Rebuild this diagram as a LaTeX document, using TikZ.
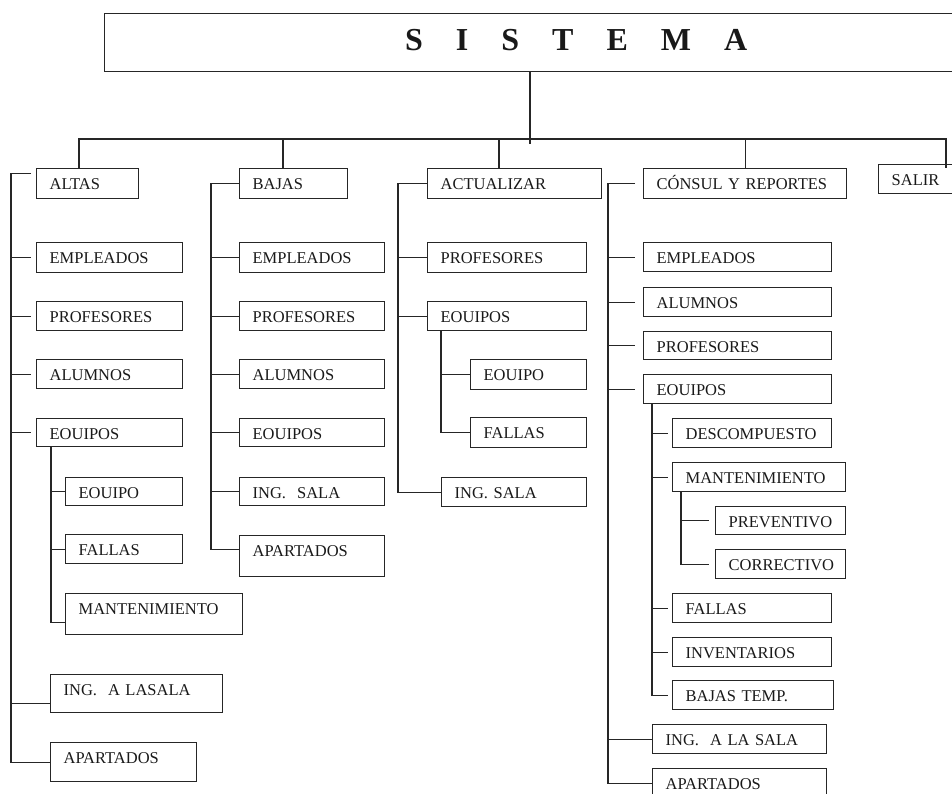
\documentclass[tikz,border=0pt]{standalone}
\usepackage{fontspec}
\setmainfont{Liberation Serif}
\newcommand\bx[6]{\pgfmathsetmacro\bxd{#5-21}\node[box,text width=#4pt,text depth=\bxd pt] (#1) at (#2,#3) {\hspace*{13pt}\mbox{#6}};}
\begin{document}
\begin{tikzpicture}[x=1pt,y=-1pt,
  ln/.style={line width=1.3pt,draw=black!85},
  box/.style={draw=black!85,line width=1.3pt,anchor=north west,inner xsep=0pt,inner ysep=0pt,
    align=left,font=\fontsize{16.5}{18}\selectfont,text=black!90,text height=21pt}]
\useasboundingbox (0,0) rectangle (952,793);
\clip (0,0) rectangle (952,793);
% top
\node[draw=black!85,line width=1.3pt,anchor=north west,minimum width=900pt,minimum height=58pt,inner sep=0pt] (sys) at (104,13) {};
\node[anchor=base west,inner sep=0pt,text=black!90,font=\fontsize{32}{36}\selectfont\bfseries] (systxt) at (405,50)
  {S\hspace{33pt}I\hspace{33pt}S\hspace{33pt}T\hspace{33pt}E\hspace{33pt}M\hspace{33pt}A};
% ALTAS
\bx{altas}{36}{168}{102}{30}{ALTAS}
\bx{aemp}{36}{242}{146}{30}{EMPLEADOS}
\bx{aprof}{36}{301}{146}{29}{PROFESORES}
\bx{aalum}{36}{359}{146}{29}{ALUMNOS}
\bx{aequ}{36}{418}{146}{28}{EOUIPOS}
\bx{aeqa}{65}{477}{117}{28}{EOUIPO}
\bx{afal}{65}{534}{117}{29}{FALLAS}
\bx{amant}{65}{593}{177}{41}{MANTENIMIENTO}
\bx{aing}{50}{674}{172}{38}{ING.\ \ A LASALA}
\bx{aapa}{50}{742}{146}{39}{APARTADOS}
% BAJAS
\bx{bajas}{239}{168}{108}{30}{BAJAS}
\bx{bemp}{239}{242}{145}{30}{EMPLEADOS}
\bx{bprof}{239}{301}{145}{29}{PROFESORES}
\bx{balum}{239}{359}{145}{29}{ALUMNOS}
\bx{bequ}{239}{418}{145}{28}{EOUIPOS}
\bx{bing}{239}{477}{145}{28}{ING.\ \ SALA}
\bx{bapa}{239}{535}{145}{41}{APARTADOS}
% ACTUALIZAR
\bx{act}{427}{168}{174}{30}{ACTUALIZAR}
\bx{cprof}{427}{242}{159}{30}{PROFESORES}
\bx{cequ}{427}{301}{159}{29}{EOUIPOS}
\bx{ceqa}{470}{359}{116}{30}{EOUIPO}
\bx{cfal}{470}{417}{116}{30}{FALLAS}
\bx{cing}{441}{477}{145}{29}{ING. SALA}
% CONSUL
\bx{cons}{643}{168}{203}{30}{CÓNSUL Y REPORTES}
\bx{demp}{643}{242}{188}{29}{EMPLEADOS}
\bx{dalum}{643}{287}{188}{29}{ALUMNOS}
\bx{dprof}{643}{331}{188}{28}{PROFESORES}
\bx{dequ}{643}{374}{188}{29}{EOUIPOS}
\bx{ddesc}{672}{418}{159}{29}{DESCOMPUESTO}
\bx{dmant}{672}{462}{173}{29}{MANTENIMIENTO}
\bx{dprev}{715}{506}{130}{28}{PREVENTIVO}
\bx{dcorr}{715}{549}{130}{29}{CORRECTIVO}
\bx{dfal}{672}{593}{159}{29}{FALLAS}
\bx{dinv}{672}{637}{159}{29}{INVENTARIOS}
\bx{dbaj}{672}{680}{161}{29}{BAJAS TEMP.}
\bx{ding}{652}{724}{174}{29}{ING.\ \ A LA SALA}
\bx{dapa}{652}{768}{174}{30}{APARTADOS}
% SALIR
\bx{salir}{878}{164}{84}{29}{SALIR}
% main connectors
\draw[ln] ([xshift=426pt]sys.south west) -- ++(0,72);
\draw[ln] ([xshift=43pt]altas.north west) -- ++(0,-29) -| ([shift={(68pt,-4pt)}]salir.north west);
\draw[ln] ([xshift=44pt]bajas.north west) -- ++(0,-29);
\draw[ln] ([xshift=72pt]act.north west) -- ++(0,-29);
\draw[ln] (cons.north) -- ++(0,-29);
% ALTAS connectors
\coordinate (sa) at (11,0);
\coordinate (sae) at (51,0);
\draw[ln] ([shift={(-5pt,10pt)}]altas.west) -- ++(-20,0) |- (aapa.west);
\foreach \n in {aemp,aprof,aalum,aequ}
  \draw[ln] (sa |- \n.west) -- ([xshift=-5pt]\n.west);
\draw[ln] (sa |- aing.west) ++(0,10) -- ([yshift=-10pt]aing.west);
\draw[ln] (sae |- aequ.south) |- ([yshift=-8.5pt]amant.west);
\foreach \n in {aeqa,afal}
  \draw[ln] (sae |- \n.west) -- (\n.west);
% BAJAS connectors
\coordinate (sb) at (211,0);
\draw[ln] (bajas.west) -- (sb |- bajas.west) |- ([yshift=6.5pt]bapa.west);
\foreach \n in {bemp,bprof,balum,bequ,bing}
  \draw[ln] (sb |- \n.west) -- (\n.west);
% ACTUALIZAR connectors
\coordinate (sc) at (398,0);
\coordinate (sce) at (441,0);
\draw[ln] (act.west) -- (sc |- act.west) |- (cing.west);
\foreach \n in {cprof,cequ}
  \draw[ln] (sc |- \n.west) -- (\n.west);
\draw[ln] (sce |- cequ.south) |- (cfal.west);
\draw[ln] (sce |- ceqa.west) -- (ceqa.west);
% CONSUL connectors
\coordinate (sd) at (608,0);
\coordinate (sde) at (652,0);
\coordinate (sdm) at (681,0);
\draw[ln] ([xshift=-8pt]cons.west) -- (sd |- cons.west) |- (dapa.west);
\foreach \n in {demp,dalum,dprof,dequ}
  \draw[ln] (sd |- \n.west) -- ([xshift=-8pt]\n.west);
\draw[ln] (sd |- ding.west) -- (ding.west);
\draw[ln] (sde |- dequ.south) |- ([xshift=-4pt]dbaj.west);
\foreach \n in {ddesc,dmant,dfal,dinv}
  \draw[ln] (sde |- \n.west) -- ([xshift=-4pt]\n.west);
\draw[ln] (sdm |- dmant.south) |- ([xshift=-6pt]dcorr.west);
\draw[ln] (sdm |- dprev.west) -- ([xshift=-6pt]dprev.west);
\end{tikzpicture}
\end{document}
